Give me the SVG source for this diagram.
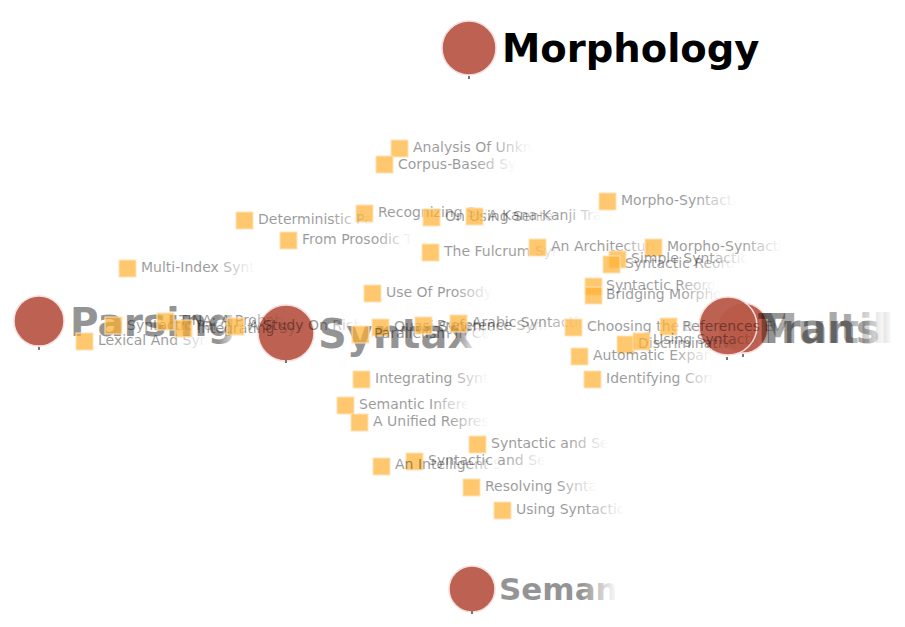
<svg xmlns="http://www.w3.org/2000/svg" width="905" height="627" viewBox="0 0 905 627">
<defs>
<linearGradient id="fade" x1="0" y1="0" x2="1" y2="0">
<stop offset="0" stop-color="#000" stop-opacity="0.4"/>
<stop offset="0.65" stop-color="#000" stop-opacity="0.4"/>
<stop offset="1" stop-color="#000" stop-opacity="0"/>
</linearGradient>
<linearGradient id="fadeBig" x1="0" y1="0" x2="1" y2="0">
<stop offset="0" stop-color="#000" stop-opacity="0.42"/>
<stop offset="0.7" stop-color="#000" stop-opacity="0.42"/>
<stop offset="1" stop-color="#000" stop-opacity="0"/>
</linearGradient>
<linearGradient id="fadeBig2" x1="0" y1="0" x2="1" y2="0">
<stop offset="0" stop-color="#000" stop-opacity="0.42"/>
<stop offset="0.9" stop-color="#000" stop-opacity="0.42"/>
<stop offset="1" stop-color="#000" stop-opacity="0.1"/>
</linearGradient>
</defs>
<style>
.hub{fill:#b95a49;fill-opacity:0.95;stroke:#f4dedb;stroke-width:1.5}
.tick{fill:#777}
.big{font-family:"DejaVu Sans",sans-serif;font-weight:bold}
.sq{fill:#ffb030;fill-opacity:0.7;stroke:#ffe2b8;stroke-width:1}
.lbl{font-family:"DejaVu Sans",sans-serif;font-size:14px;fill:url(#fade)}
</style>
<rect width="905" height="627" fill="#fff"/>
<g id="connectors"/>

<g id="hub-morphology">
<circle class="hub" cx="469" cy="48" r="27"/>
<rect class="tick" x="468" y="76" width="2" height="3"/>
<text class="big" x="502" y="62" style="font-size:38.5px" fill="#000">Morphology</text>
</g>
<g id="hub-parsing">
<circle class="hub" cx="39" cy="321" r="25"/>
<rect class="tick" x="38" y="347" width="2" height="3"/>
<text class="big" x="70" y="336" fill="url(#fadeBig2)" style="font-size:39px">Parsing</text>
</g>
<g id="hub-syntax">
<circle class="hub" cx="286" cy="333" r="28"/>
<rect class="tick" x="285" y="360" width="2" height="3"/>
<text class="big" x="318" y="348" fill="url(#fadeBig2)" style="font-size:40px">Syntax</text>
</g>
<g id="hub-semantics">
<circle class="hub" cx="472" cy="589" r="23"/>
<rect class="tick" x="471" y="611" width="2" height="3"/>
<text class="big" x="499" y="600" style="font-size:31px" fill="url(#fadeBig)">Seman</text>
</g>
<g id="hub-multilingual">
<circle class="hub" cx="743" cy="328" r="25"/>
<rect class="tick" x="742" y="354" width="2" height="3"/>
<text class="big" x="758" y="343" fill="url(#fadeBig)" fill-opacity="0.8" style="font-size:40px">Multil</text>
</g>
<g id="hub-translation">
<circle class="hub" cx="728" cy="326" r="29"/>
<rect class="tick" x="726" y="357" width="2" height="3"/>
<text class="big" x="758" y="343" fill="url(#fadeBig)" style="font-size:40px">Transl</text>
</g>

<g id="n1"><rect class="sq" x="391" y="140" width="17" height="17"/><text class="lbl" x="413" y="152">Analysis Of Unkn</text></g>
<g id="n2"><rect class="sq" x="376" y="156" width="17" height="17"/><text class="lbl" x="398" y="169">Corpus-Based Sy</text></g>
<g id="n3"><rect class="sq" x="356" y="205" width="17" height="17"/><text class="lbl" x="378" y="217">Recognizing Syn</text></g>
<g id="n4"><rect class="sq" x="423" y="209" width="17" height="17"/><text class="lbl" x="445" y="221">On Using Senten</text></g>
<g id="n5"><rect class="sq" x="466" y="208" width="17" height="17"/><text class="lbl" x="488" y="220">A Kana-Kanji Tra</text></g>
<g id="n6"><rect class="sq" x="236" y="212" width="17" height="17"/><text class="lbl" x="258" y="224">Deterministic Pa</text></g>
<g id="n7"><rect class="sq" x="280" y="232" width="17" height="17"/><text class="lbl" x="302" y="244">From Prosodic T</text></g>
<g id="n8"><rect class="sq" x="422" y="244" width="17" height="17"/><text class="lbl" x="444" y="256">The Fulcrum Syn</text></g>
<g id="n9"><rect class="sq" x="529" y="239" width="17" height="17"/><text class="lbl" x="551" y="251">An Architecture</text></g>
<g id="n10"><rect class="sq" x="599" y="193" width="17" height="17"/><text class="lbl" x="621" y="205">Morpho-Syntacti</text></g>
<g id="n11"><rect class="sq" x="645" y="239" width="17" height="17"/><text class="lbl" x="667" y="251">Morpho-Syntacti</text></g>
<g id="n12"><rect class="sq" x="609" y="251" width="17" height="17"/><text class="lbl" x="631" y="263">Simple Syntactic</text></g>
<g id="n13"><rect class="sq" x="603" y="256" width="17" height="17"/><text class="lbl" x="625" y="268">Syntactic Reord</text></g>
<g id="n14"><rect class="sq" x="119" y="260" width="17" height="17"/><text class="lbl" x="141" y="272">Multi-Index Synt</text></g>
<g id="n15"><rect class="sq" x="364" y="285" width="17" height="17"/><text class="lbl" x="386" y="297">Use Of Prosody</text></g>
<g id="n16"><rect class="sq" x="585" y="278" width="17" height="17"/><text class="lbl" x="606" y="290">Syntactic Reord</text></g>
<g id="n17"><rect class="sq" x="585" y="287" width="17" height="17"/><text class="lbl" x="606" y="299">Bridging Morpho</text></g>
<g id="n18"><rect class="sq" x="76" y="333" width="17" height="17"/><text class="lbl" x="98" y="345">Lexical And Syn</text></g>
<g id="n19"><rect class="sq" x="105" y="317" width="17" height="17"/><text class="lbl" x="127" y="330">Syntactic Parsi</text></g>
<g id="n20"><rect class="sq" x="157" y="313" width="17" height="17"/><text class="lbl" x="179" y="325">TINA: A Probabi</text></g>
<g id="n21"><rect class="sq" x="175" y="320" width="17" height="17"/><text class="lbl" x="197" y="333">Integrating Syn</text></g>
<g id="n22"><rect class="sq" x="227" y="318" width="17" height="17"/><text class="lbl" x="249" y="330">A Study On Rich</text></g>
<g id="n23"><rect class="sq" x="372" y="319" width="17" height="17"/><text class="lbl" x="394" y="331">Quasi-Synchron</text></g>
<g id="n24"><rect class="sq" x="352" y="326" width="17" height="17"/><text class="lbl" x="374" y="338">Parallelism In Co</text></g>
<g id="n25"><rect class="sq" x="415" y="317" width="17" height="17"/><text class="lbl" x="437" y="330">Preference Synt</text></g>
<g id="n26"><rect class="sq" x="450" y="315" width="17" height="17"/><text class="lbl" x="472" y="327">Arabic Syntactic</text></g>
<g id="n27"><rect class="sq" x="565" y="319" width="17" height="17"/><text class="lbl" x="587" y="331">Choosing the Be</text></g>
<g id="n28"><rect class="sq" x="660" y="318" width="17" height="17"/><text class="lbl" x="682" y="331">References Eval</text></g>
<g id="n29"><rect class="sq" x="617" y="336" width="17" height="17"/><text class="lbl" x="638" y="348">Discriminative</text></g>
<g id="n30"><rect class="sq" x="633" y="333" width="17" height="17"/><text class="lbl" x="653" y="344">Using Syntactic</text></g>
<g id="n31"><rect class="sq" x="571" y="348" width="17" height="17"/><text class="lbl" x="593" y="360">Automatic Expan</text></g>
<g id="n32"><rect class="sq" x="584" y="371" width="17" height="17"/><text class="lbl" x="606" y="383">Identifying Corr</text></g>
<g id="n33"><rect class="sq" x="353" y="371" width="17" height="17"/><text class="lbl" x="375" y="383">Integrating Synt</text></g>
<g id="n34"><rect class="sq" x="337" y="397" width="17" height="17"/><text class="lbl" x="359" y="409">Semantic Infere</text></g>
<g id="n35"><rect class="sq" x="351" y="414" width="17" height="17"/><text class="lbl" x="373" y="426">A Unified Repres</text></g>
<g id="n36"><rect class="sq" x="469" y="436" width="17" height="17"/><text class="lbl" x="491" y="448">Syntactic and Se</text></g>
<g id="n37"><rect class="sq" x="406" y="453" width="17" height="17"/><text class="lbl" x="428" y="465">Syntactic and Se</text></g>
<g id="n38"><rect class="sq" x="373" y="458" width="17" height="17"/><text class="lbl" x="395" y="469">An Intelligent S</text></g>
<g id="n39"><rect class="sq" x="463" y="479" width="17" height="17"/><text class="lbl" x="485" y="491">Resolving Synta</text></g>
<g id="n40"><rect class="sq" x="494" y="502" width="17" height="17"/><text class="lbl" x="516" y="514">Using Syntactic</text></g>
</svg>
